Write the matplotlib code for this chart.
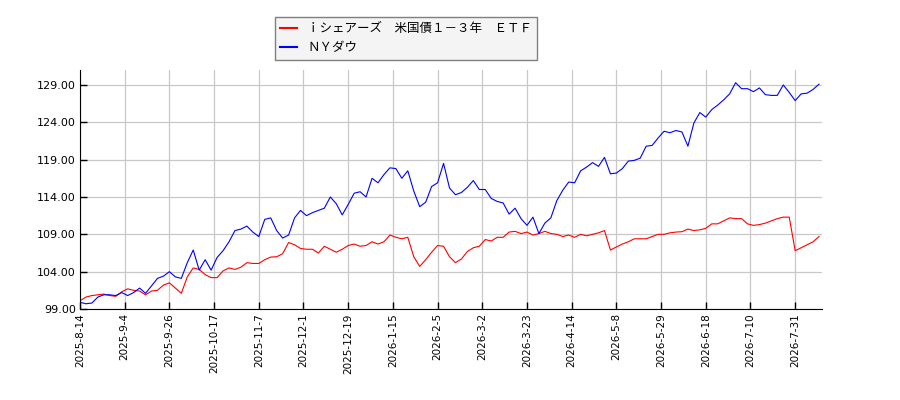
import numpy as np
import matplotlib
matplotlib.use("Agg")
import matplotlib.pyplot as plt

plt.rcParams['font.family'] = ['Noto Sans CJK JP', 'DejaVu Sans']

# every second trading day from 2025-8-14
etf_vals = [
    100.1, 100.6, 100.8, 100.9, 101.0, 100.8, 100.7, 101.3, 101.7, 101.5,
    101.4, 100.9, 101.4, 101.5, 102.2, 102.5, 101.8, 101.1, 103.3, 104.5,
    104.3, 103.6, 103.2, 103.2, 104.1, 104.5, 104.3, 104.6, 105.2, 105.1,
    105.1, 105.6, 105.95, 106.0, 106.4, 107.9, 107.6, 107.1, 107.0, 107.0,
    106.5, 107.4, 107.0, 106.6, 107.0, 107.5, 107.7, 107.4, 107.5, 108.0,
    107.7, 108.0, 108.9, 108.6, 108.4, 108.6, 106.0, 104.7, 105.6, 106.6,
    107.5, 107.4, 106.0, 105.2, 105.7, 106.7, 107.2, 107.4, 108.3, 108.1,
    108.6, 108.6, 109.3, 109.4, 109.1, 109.3, 108.9, 109.1, 109.4, 109.1,
    109.0, 108.7, 108.9, 108.6, 109.0, 108.8, 109.0, 109.2, 109.5, 106.9,
    107.3, 107.7, 108.0, 108.4, 108.4, 108.4, 108.7, 109.0, 109.0, 109.2,
    109.3, 109.35, 109.7, 109.5, 109.6, 109.8, 110.4, 110.4, 110.8, 111.2,
    111.1, 111.1, 110.4, 110.2, 110.3, 110.5, 110.8, 111.1, 111.3, 111.3,
    106.8, 107.2, 107.6, 108.0, 108.7,
]
dow_vals = [
    99.9, 99.7, 99.8, 100.6, 100.9, 100.9, 100.8, 101.2, 100.8, 101.2,
    101.8, 101.1, 102.1, 103.1, 103.4, 104.0, 103.3, 103.1, 105.2, 106.9,
    104.2, 105.6, 104.2, 105.9, 106.8, 108.0, 109.5, 109.7, 110.1, 109.3,
    108.7, 111.0, 111.2, 109.5, 108.5, 108.9, 111.2, 112.2, 111.5, 111.9,
    112.2, 112.5, 114.0, 113.1, 111.6, 113.0, 114.5, 114.7, 114.0, 116.5,
    115.9, 117.0, 117.9, 117.8, 116.5, 117.5, 114.8, 112.7, 113.3, 115.4,
    115.9, 118.5, 115.2, 114.3, 114.6, 115.3, 116.2, 115.0, 115.0, 113.8,
    113.4, 113.2, 111.7, 112.5, 111.1, 110.2, 111.3, 109.1, 110.5, 111.2,
    113.5, 114.9, 116.0, 115.9, 117.5, 118.0, 118.6, 118.1, 119.3, 117.1,
    117.2, 117.8, 118.8, 118.9, 119.2, 120.8, 120.9, 121.9, 122.8, 122.6,
    122.9, 122.7, 120.8, 123.9, 125.3, 124.7, 125.7, 126.3, 127.0, 127.8,
    129.3, 128.5, 128.5, 128.1, 128.6, 127.7, 127.6, 127.6, 129.0, 128.0,
    126.9, 127.8, 127.9, 128.4, 129.1,
]
tick_labels = [
    "2025-8-14", "2025-9-4", "2025-9-26", "2025-10-17", "2025-11-7",
    "2025-12-1", "2025-12-19", "2026-1-15", "2026-2-5", "2026-3-2",
    "2026-3-23", "2026-4-14", "2026-5-8", "2026-5-29", "2026-6-18",
    "2026-7-10", "2026-7-31",
]
y_ticks = [99, 104, 109, 114, 119, 124, 129]

days = np.arange(len(dow_vals)) * 2

fig = plt.figure(figsize=(9, 4), dpi=100)
ax = fig.add_axes([80/900, 1-309/400, 742/900, 239/400])

ax.plot(days, etf_vals, color="red", lw=0.8,
        label="ｉシェアーズ　米国債１－３年　ＥＴＦ")
ax.plot(days, dow_vals, color="blue", lw=0.8, label="ＮＹダウ")

ax.set_xlim(0, 249)
ax.set_ylim(99, 131)
ax.set_xticks(np.arange(len(tick_labels)) * 15)
ax.set_xticklabels(tick_labels, rotation=90, fontsize=7.5, family="DejaVu Sans")
ax.set_yticks(y_ticks)
ax.set_yticklabels([f"{v:.2f}" for v in y_ticks], fontsize=8, family="DejaVu Sans")
ax.grid(True, color="#c8c8c8", lw=0.9)
ax.set_axisbelow(True)
ax.tick_params(direction="in", length=5, width=1, pad=3)
for s in ("top", "right"):
    ax.spines[s].set_visible(False)

leg = fig.legend(loc="upper center", bbox_to_anchor=(406/900, 1-11/400),
                 fontsize=9, fancybox=False, edgecolor="#808080",
                 facecolor="#f4f4f4", framealpha=1, handlelength=1.4,
                 borderpad=0.4, labelspacing=0.5)
leg.get_frame().set_linewidth(1)
for line in leg.get_lines():
    line.set_linewidth(1.5)

fig.savefig("out.png", dpi=100)
